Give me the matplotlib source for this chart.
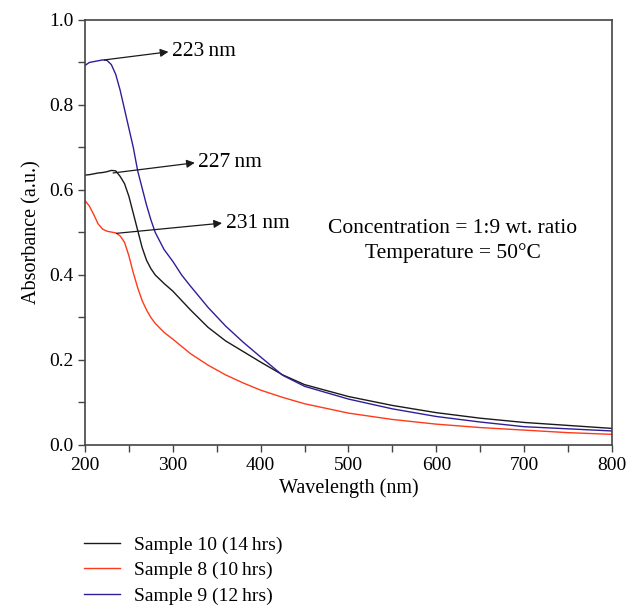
import numpy as np
import matplotlib.pyplot as plt
from matplotlib.ticker import MultipleLocator

plt.rcParams['font.family'] = ['Liberation Serif', 'DejaVu Serif']

# ---------------- data ----------------
wl = [200, 205, 210, 215, 220, 225, 230, 235, 240, 245, 250, 255, 260, 265,
      270, 275, 280, 290, 300, 310, 320, 340, 360, 380, 400, 425, 450, 500,
      550, 600, 650, 700, 750, 800]

s10 = [0.635, 0.636, 0.638, 0.640, 0.641, 0.643, 0.646, 0.645, 0.632, 0.615,
       0.585, 0.545, 0.505, 0.465, 0.435, 0.415, 0.400, 0.380, 0.362, 0.340,
       0.318, 0.277, 0.245, 0.220, 0.195, 0.165, 0.142, 0.114, 0.093, 0.076,
       0.063, 0.053, 0.046, 0.039]

s8 = [0.575, 0.562, 0.542, 0.520, 0.508, 0.503, 0.501, 0.499, 0.492, 0.477,
      0.445, 0.405, 0.370, 0.340, 0.318, 0.300, 0.286, 0.265, 0.249, 0.232,
      0.215, 0.188, 0.165, 0.146, 0.129, 0.112, 0.097, 0.075, 0.060, 0.049,
      0.041, 0.035, 0.029, 0.025]

s9 = [0.893, 0.900, 0.902, 0.904, 0.906, 0.905, 0.895, 0.872, 0.835, 0.790,
      0.745, 0.700, 0.645, 0.605, 0.565, 0.530, 0.500, 0.460, 0.432, 0.400,
      0.374, 0.324, 0.280, 0.242, 0.207, 0.164, 0.138, 0.108, 0.085, 0.067,
      0.054, 0.043, 0.038, 0.033]

labels = ["Sample 10 (14\u2009hrs)", "Sample 8 (10\u2009hrs)", "Sample 9 (12\u2009hrs)"]

# peaks: (text, arrow start, arrow end)
peaks = [("223\u2009nm", (222, 0.906), (295, 0.925)),
         ("227\u2009nm", (232, 0.640), (325, 0.664)),
         ("231\u2009nm", (236, 0.498), (356, 0.522))]

# ---------------- plot ----------------
fig = plt.figure(figsize=(6.29, 6.05), dpi=100)
ax = fig.add_axes([0.1351, 0.2645, 0.8379, 0.7025])

l1, = ax.plot(wl, s10, color='#1a1a1a', lw=1.0)
l2, = ax.plot(wl, s8, color='#ff3a1a', lw=1.0)
l3, = ax.plot(wl, s9, color='#2e1f99', lw=1.0)

for txt, p0, p1 in peaks:
    ax.annotate('', xy=p1, xytext=p0,
                arrowprops=dict(arrowstyle='-|>', color='#1a1a1a', lw=0.9,
                                mutation_scale=12, shrinkA=0, shrinkB=0))
    ax.text(p1[0] + 4, p1[1], txt, fontsize=15.5, va='center', ha='left')

ax.text(619, 0.51, "Concentration = 1:9 wt. ratio", fontsize=15.5, ha='center', va='center')
ax.text(619, 0.452, "Temperature = 50\u00b0C", fontsize=15.5, ha='center', va='center')

ax.set_xlim(200, 800)
ax.set_ylim(0, 1.0)
ax.xaxis.set_major_locator(MultipleLocator(100))
ax.xaxis.set_minor_locator(MultipleLocator(50))
ax.yaxis.set_major_locator(MultipleLocator(0.2))
ax.yaxis.set_minor_locator(MultipleLocator(0.1))
ax.yaxis.set_major_formatter(plt.FormatStrFormatter('%.1f'))
ax.tick_params(which='both', direction='out', length=5, width=1, labelsize=14,
               color='#444444')
for s in ax.spines.values():
    s.set_color('#444444')
    s.set_linewidth(1.2)

ax.set_xlabel("Wavelength (nm)", fontsize=14.5, labelpad=3)
ax.set_ylabel("Absorbance (a.u.)", fontsize=14.5, labelpad=5)

fig.legend([l1, l2, l3], labels, loc='upper left', bbox_to_anchor=(0.121, 0.127),
           frameon=False, fontsize=14, handlelength=1.85, handletextpad=0.75,
           labelspacing=0.4, borderaxespad=0)

fig.savefig("out.png", dpi=100)
